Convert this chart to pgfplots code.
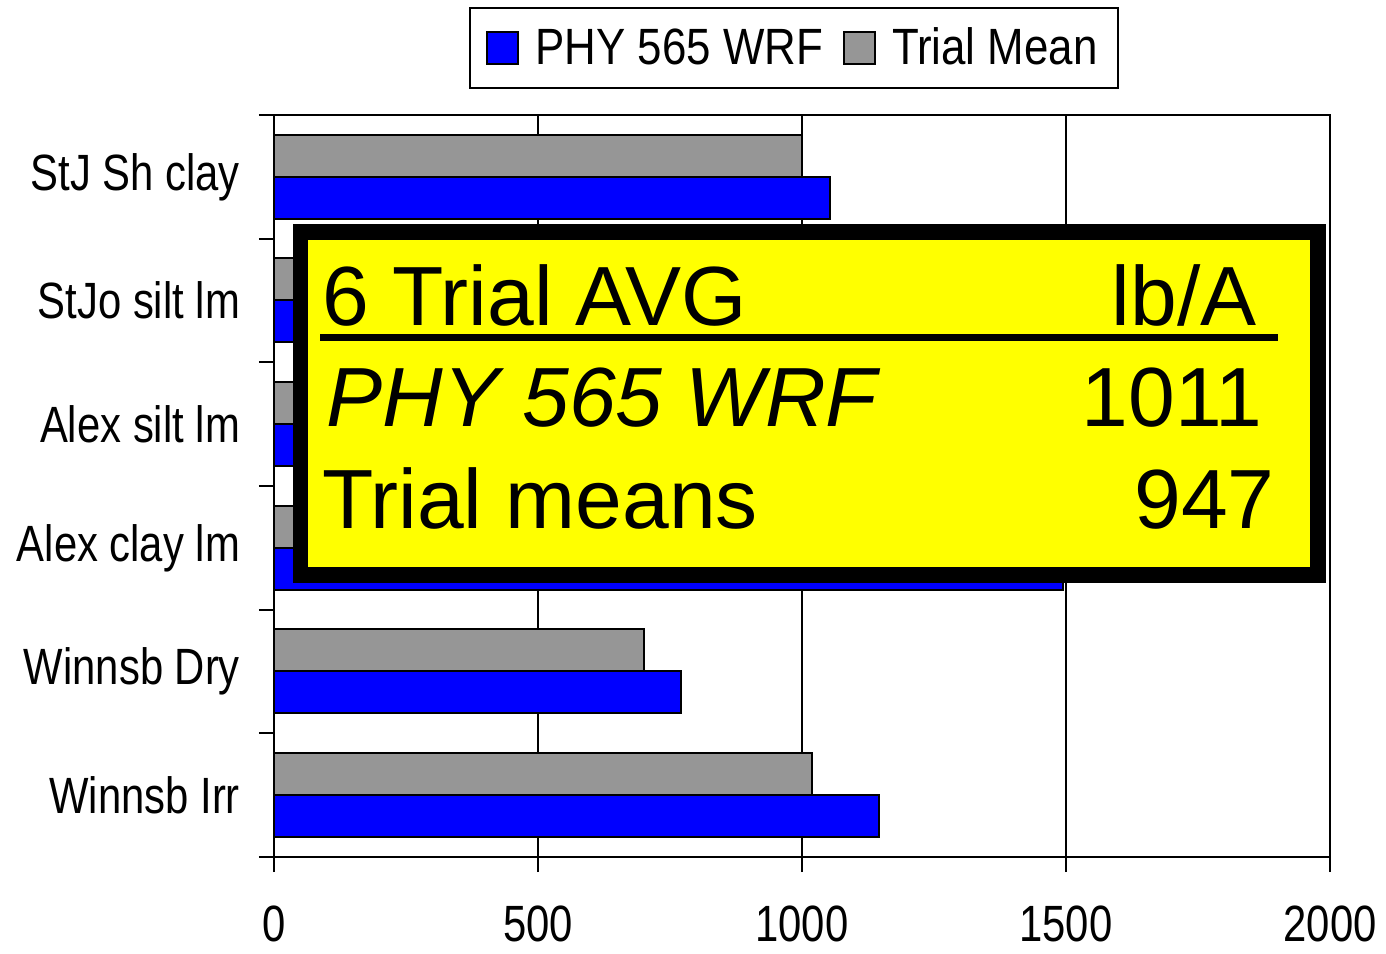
\documentclass[border=0pt]{standalone}
\usepackage{pgfplots}
\pgfplotsset{compat=1.18}
\usepackage{fontspec}
\setmainfont{Liberation Sans}
\newfontfamily\narrowfont{Liberation Sans}[FakeStretch=0.82]
\newfontfamily\legfont{Liberation Sans}[FakeStretch=0.86]
\definecolor{barblue}{RGB}{0,0,255}
\definecolor{bargray}{RGB}{150,150,150}
\definecolor{boxyellow}{RGB}{255,255,0}
\newcommand\boxfont{\fontsize{42}{50}\selectfont}
\newcommand\lblfont{\narrowfont\fontsize{25.5}{30}\selectfont}
\begin{document}
\begin{tikzpicture}[x=1pt,y=1pt]
\useasboundingbox (0,0) rectangle (693,476.5);
\begin{axis}[
  at={(137pt,48pt)}, anchor=south west,
  scale only axis, width=528pt, height=371pt,
  xbar, bar width=21pt,
  xmin=0, xmax=2000, ymin=-0.5, ymax=5.5,
  xtick={0,500,1000,1500,2000},
  ytick={-0.5,0.5,1.5,2.5,3.5,4.5,5.5},
  y tick label as interval,
  yticklabels={Winnsb Irr, Winnsb Dry, Alex clay lm, Alex silt lm, StJo silt lm, StJ Sh clay, {}},
  tick align=outside, tick pos=left,
  major tick length=7.5pt,
  xmajorgrids=true,
  grid style={black, line width=0.75pt},
  axis line style={line width=1pt},
  every tick/.style={black, line width=1pt},
  ticklabel style={font=\lblfont},
  /pgf/number format/assume math mode=true,
  /pgf/number format/set thousands separator={},
  xticklabel style={yshift=-15.5pt, inner sep=1pt},
  yticklabel style={xshift=-6pt},
  legend style={at={(axis description cs:0.4924,1.0903)}, anchor=center,
    draw=black, line width=1pt, font=\legfont\fontsize{25.5}{30}\selectfont, inner xsep=8pt, inner ysep=8pt,
    /tikz/every even column/.append style={column sep=8pt},
    /tikz/every odd column/.append style={column sep=6pt}},
  legend columns=-1,
  legend image code/.code={\draw[#1, line width=1pt] (0pt,-8pt) rectangle (15.5pt,8pt);},
]
\addplot[fill=barblue, draw=black, line width=1pt, bar shift=-10.5pt]
  coordinates {(1146,0) (771,1) (1494,2) (791,3) (815,4) (1053,5)};
\addlegendentry{PHY 565 WRF}
\addplot[fill=bargray, draw=black, line width=1pt, bar shift=10.5pt]
  coordinates {(1019,0) (701,1) (1330,2) (810,3) (820,4) (1000,5)};
\addlegendentry{Trial Mean}
\end{axis}
\fill[black] (146.5,185) rectangle (663,364.5);
\fill[boxyellow] (154,193) rectangle (655,356.5);
\node[anchor=base west, inner sep=0] at (161,313.5) {\boxfont 6 Trial AVG};
\node[anchor=base east, inner sep=0] at (628.5,313.5) {\boxfont lb/A};
\draw[line width=3.5pt] (160,307.75) -- (639,307.75);
\node[anchor=base west, inner sep=0] at (163,263) {\boxfont\itshape PHY 565 WRF};
\node[anchor=base east, inner sep=0] at (631.5,263) {\boxfont 1011};
\node[anchor=base west, inner sep=0] at (161,212) {\boxfont Trial means};
\node[anchor=base east, inner sep=0] at (637.5,212) {\boxfont 947};
\end{tikzpicture}
\end{document}
